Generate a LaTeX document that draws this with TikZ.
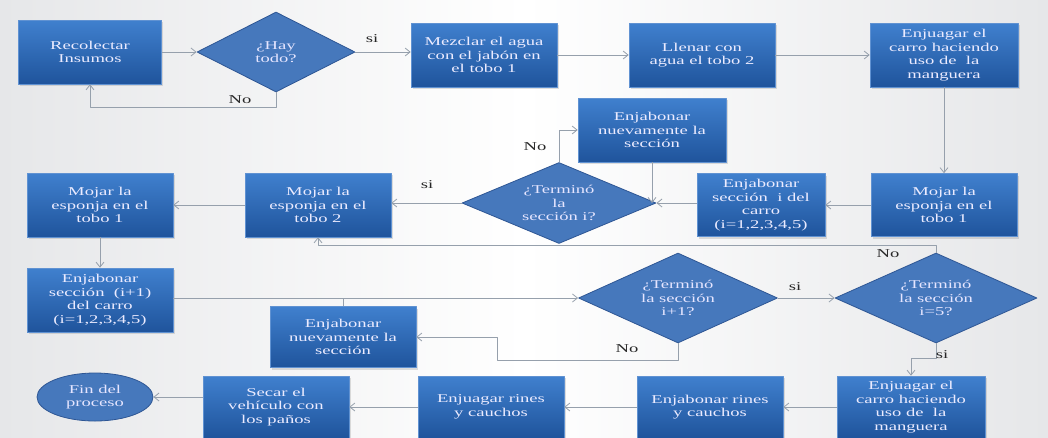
\documentclass[tikz,border=0pt]{standalone}
\usepackage{fontspec}
\setmainfont{Liberation Serif}
\newfontfamily\boxfont[FakeStretch=1.55]{Liberation Serif}
\usepackage{tikz}
\usetikzlibrary{arrows.meta,shapes.geometric,shadows}
\definecolor{boxtop}{RGB}{64,128,206}
\definecolor{boxbot}{RGB}{31,84,156}
\definecolor{boxedge}{RGB}{96,146,210}
\definecolor{decfill}{RGB}{70,120,188}
\definecolor{decedge}{RGB}{46,86,148}
\definecolor{linegray}{RGB}{150,160,172}
\definecolor{bgedge}{RGB}{230,231,233}

\tikzset{
    stepbox/.style={rectangle, draw=boxedge, line width=0.6pt,
        top color=boxtop, bottom color=boxbot,
        minimum width=146pt, minimum height=64pt, inner sep=2pt,
        text=white!92!blue, align=center,
        font=\boxfont\fontsize{12}{13.5}\selectfont,
        drop shadow={opacity=0.25, shadow xshift=1.5pt, shadow yshift=-2pt}},
    decision/.style={diamond, aspect=2.3, draw=decedge, line width=0.8pt,
        fill=decfill, inner sep=0pt, text=white!90!blue, align=center,
        font=\boxfont\fontsize{12}{13.5}\selectfont},
    endcap/.style={ellipse, draw=decedge, line width=0.8pt, fill=decfill,
        minimum width=116pt, minimum height=48pt, inner sep=0pt,
        text=white!90!blue, align=center,
        font=\boxfont\fontsize{12}{13.5}\selectfont},
    flow/.style={draw=linegray, line width=0.8pt, -{Straight Barb[length=5pt,width=8pt]}},
    joint/.style={draw=linegray, line width=0.8pt},
    tag/.style={font=\boxfont\fontsize{12}{13}\selectfont, text=black!85},
}

\begin{document}
\begin{tikzpicture}[x=1pt, y=-1pt, line join=round]
    % background
    \shade[left color=bgedge, right color=bgedge, middle color=white] (0,0) rectangle (1048,437);
    \useasboundingbox (0,0) rectangle (1048,437);
    % first row
    \node[stepbox, minimum width=143pt] (recolectar) at (90,52) {Recolectar\\Insumos};
    \node[decision, minimum width=158pt, minimum height=80pt] (haytodo) at (276,52) {¿Hay\\todo?};
    \node[stepbox] (mezclar) at (484,55) {Mezclar el agua\\con el jabón en\\el tobo 1};
    \node[stepbox] (llenar) at (702,55) {Llenar con\\agua el tobo 2};
    \node[stepbox, minimum width=148pt] (enjuagar1) at (944,55) {Enjuagar el\\carro haciendo\\uso de\ \ la\\manguera};
    % second row
    \node[stepbox, minimum height=63pt] (mojar1) at (944,205) {Mojar la\\esponja en el\\tobo 1};
    \node[stepbox, minimum width=128pt, minimum height=63pt] (seccion1) at (761,205) {Enjabonar\\sección\ \ i del\\carro\\(i=1,2,3,4,5)};
    \node[decision, minimum width=194pt, minimum height=81pt] (termino1) at (559,203) {¿Terminó\\la\\sección i?};
    \node[stepbox, minimum width=148pt] (repetir1) at (652,130) {Enjabonar\\nuevamente la\\sección};
    \node[stepbox] (mojar2) at (318,205) {Mojar la\\esponja en el\\tobo 2};
    \node[stepbox] (mojar3) at (100,205) {Mojar la\\esponja en el\\tobo 1};
    % third row
    \node[stepbox] (seccion2) at (100,300) {Enjabonar\\sección\ \ (i+1)\\del carro\\(i=1,2,3,4,5)};
    \node[stepbox, minimum height=61pt] (repetir2) at (343,337) {Enjabonar\\nuevamente la\\sección};
    \node[decision, minimum width=199pt, minimum height=90pt] (termino2) at (678,298) {¿Terminó\\la sección\\i+1?};
    \node[decision, minimum width=202pt, minimum height=90pt] (termino5) at (936,298) {¿Terminó\\la sección\\i=5?};
    % last row
    \node[stepbox, minimum width=148pt, minimum height=62pt] (enjuagar2) at (911,407) {Enjuagar el\\carro haciendo\\uso de\ \ la\\manguera};
    \node[stepbox, minimum height=62pt] (rines1) at (710,407) {Enjabonar rines\\y cauchos};
    \node[stepbox, minimum height=62pt] (rines2) at (491,407) {Enjuagar rines\\y cauchos};
    \node[stepbox, minimum height=62pt] (secar) at (276,407) {Secar el\\vehículo con\\los paños};
    \node[endcap] (fin) at (95,397) {Fin del\\proceso};
    % connectors
    \draw[flow] (recolectar.east) -- (haytodo.west);
    \draw[flow] (haytodo.south) -- ++(0,15) -| (recolectar.south);
    \draw[flow] (haytodo.east) -- (haytodo.east -| mezclar.west);
    \draw[flow] (mezclar.east) -- (llenar.west);
    \draw[flow] (llenar.east) -- (enjuagar1.west);
    \draw[flow] (enjuagar1.south) -- (mojar1.north);
    \draw[flow] (mojar1.west) -- (seccion1.east);
    \draw[flow] (seccion1.west |- termino1.east) -- (termino1.east);
    \draw[flow] (termino1.north) |- (repetir1.west);
    \draw[flow] (repetir1.south) -- (repetir1.south |- termino1.east);
    \draw[flow] (termino1.west) -- (termino1.west -| mojar2.east);
    \draw[flow] (termino5.north) -- ++(0,-7) -| (mojar2.south);
    \draw[flow] (mojar2.west) -- (mojar3.east);
    \draw[flow] (mojar3.south) -- (seccion2.north);
    \draw[flow] (seccion2.east |- termino2.west) -- (termino2.west);
    \draw[joint] (repetir2.north) -- (repetir2.north |- termino2.west);
    \coordinate (codo) at (497,360);
    \draw[flow] (termino2.south) |- (codo) |- (repetir2.east);
    \draw[flow] (termino2.east) -- (termino5.west);
    \draw[flow] (termino5.south) -- ++(0,15) -| (enjuagar2.north);
    \foreach \a/\b in {enjuagar2/rines1, rines1/rines2, rines2/secar} {
        \draw[flow] (\a.west) -- (\b.east);
    }
    \draw[flow] (secar.west |- fin.east) -- (fin.east);
    % labels
    \node[tag] (si1) at (372,39) {si};
    \node[tag] (no1) at (240,100) {No};
    \node[tag] (no2) at (535,147) {No};
    \node[tag] (si2) at (427,185) {si};
    \node[tag] (no3) at (888,254) {No};
    \node[tag] (si3) at (795,287) {si};
    \node[tag] (no4) at (627,349) {No};
    \node[tag] (si4) at (942,355) {si};
\end{tikzpicture}
\end{document}
